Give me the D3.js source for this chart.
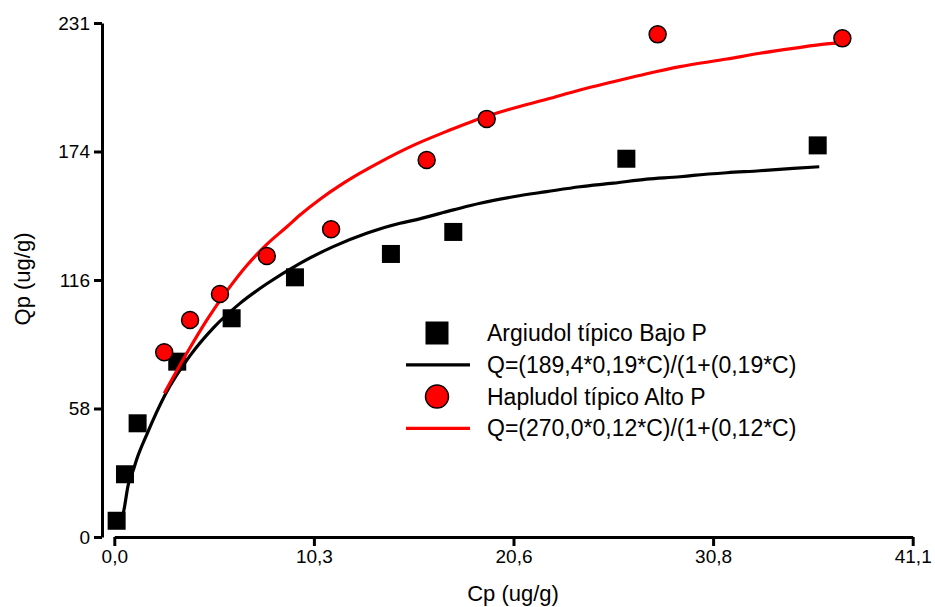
<!DOCTYPE html>
<html>
<head>
<meta charset="utf-8">
<script src="https://cdn.jsdelivr.net/npm/d3@7"></script>
<style>
  html, body { margin: 0; padding: 0; background: #fff; }
  svg { display: block; font-family: "Liberation Sans", Arial, sans-serif; }
</style>
</head>
<body>
<svg id="chart" width="935" height="607"></svg>
<script>
// axis ticks (quarter divisions, labels as printed)
const xTicks = [0, 10.275, 20.55, 30.825, 41.1];
const xTickLabels = ['0,0', '10,3', '20,6', '30,8', '41,1'];
const yTicks = [0, 57.75, 115.5, 173.25, 231];
const yTickLabels = ['0', '58', '116', '174', '231'];

// measured points, Argiudol típico Bajo P (squares)
const argiudolC = [0.12, 0.55, 1.20, 3.24, 6.04, 9.30, 14.24, 17.45, 26.36, 36.21];
const argiudolQ = [7.3, 28.2, 51.1, 78.8, 98.3, 116.7, 127.2, 137.1, 170.0, 176.0];

// measured points, Hapludol típico Alto P (circles)
const hapludolC = [2.57, 3.90, 5.44, 7.85, 11.16, 16.08, 19.17, 27.97, 37.48];
const hapludolQ = [83.0, 97.5, 109.2, 126.3, 138.3, 169.4, 187.9, 225.9, 224.1];

// fitted curves
const fitArgiudolC = [0.14, 0.46, 0.72, 0.98, 1.15, 1.67, 2.61, 3.90, 5.10, 6.47, 7.85, 9.56, 11.27,
  12.99, 14.71, 15.39, 17.45, 18.83, 20.54, 22.26, 23.97, 25.69, 27.41, 29.12, 29.81, 31.53, 33.24,
  34.95, 36.29];
const fitArgiudolQ = [5.4, 10.7, 23.5, 30.1, 34.8, 46.0, 63.8, 81.5, 94.0, 105.0, 113.8, 123.0, 130.5,
  136.5, 141.0, 142.3, 147.0, 150.0, 152.9, 155.2, 157.4, 159.0, 160.8, 161.9, 162.5, 163.7, 164.6,
  165.7, 166.4];

const fitHapludolC = [2.57, 3.73, 4.76, 5.79, 6.82, 7.85, 8.87, 9.56, 10.59, 11.62, 12.65, 13.68,
  15.39, 17.11, 18.48, 20.54, 22.26, 23.97, 25.69, 27.41, 29.12, 31.53, 33.24, 34.95, 36.67, 37.44];
const fitHapludolQ = [64.6, 82.6, 97.5, 110.5, 122.0, 131.5, 139.3, 144.7, 151.8, 158.0, 163.5, 168.5,
  176.0, 182.3, 187.0, 192.7, 196.7, 200.9, 204.6, 208.2, 211.4, 214.8, 217.4, 219.6, 221.6, 222.1];

const legendLabels = [
  'Argiudol típico Bajo P',
  'Q=(189,4*0,19*C)/(1+(0,19*C)',
  'Hapludol típico Alto P',
  'Q=(270,0*0,12*C)/(1+(0,12*C)'
];

const svg = d3.select('#chart');

// scales
const x = d3.scaleLinear().domain([0, 41.1]).range([114.3, 912.7]);
const y = d3.scaleLinear().domain([0, 231]).range([537, 23]);

// y axis, offset to the left of the plot
svg.append('g')
  .attr('transform', 'translate(102,0)')
  .call(d3.axisLeft(y)
    .tickValues(yTicks)
    .tickFormat((d, i) => yTickLabels[i])
    .tickSize(8)
    .tickPadding(4)
    .tickSizeOuter(0));

// x axis
svg.append('g')
  .attr('transform', 'translate(0,537)')
  .call(d3.axisBottom(x)
    .tickValues(xTicks)
    .tickFormat((d, i) => xTickLabels[i])
    .tickSize(9)
    .tickPadding(4)
    .tickSizeOuter(0));

// style both axes alike
svg.selectAll('.domain, .tick line')
  .attr('stroke', '#000')
  .attr('stroke-width', 3);
svg.selectAll('.tick text')
  .attr('font-size', 19)
  .attr('font-family', '"Liberation Sans", Arial, sans-serif')
  .attr('fill', '#000');

// axis titles
svg.append('text')
  .attr('transform', 'translate(30,279) rotate(-90)')
  .attr('text-anchor', 'middle')
  .attr('font-size', 22)
  .text('Qp (ug/g)');

svg.append('text')
  .attr('x', 513)
  .attr('y', 601)
  .attr('text-anchor', 'middle')
  .attr('font-size', 22)
  .text('Cp (ug/g)');

// data tables
const argiudolPts = argiudolC.map((c, i) => ({ c: c, q: argiudolQ[i] }));
const hapludolPts = hapludolC.map((c, i) => ({ c: c, q: hapludolQ[i] }));
const argiudolFit = fitArgiudolC.map((c, i) => ({ c: c, q: fitArgiudolQ[i] }));
const hapludolFit = fitHapludolC.map((c, i) => ({ c: c, q: fitHapludolQ[i] }));

const line = d3.line()
  .curve(d3.curveMonotoneX)
  .x(d => x(d.c))
  .y(d => y(d.q));

const sq = 18;

// black squares
svg.append('g')
  .selectAll('rect')
  .data(argiudolPts)
  .join('rect')
  .attr('x', d => x(d.c) - sq / 2)
  .attr('y', d => y(d.q) - sq / 2)
  .attr('width', sq)
  .attr('height', sq)
  .attr('fill', '#000');

// fitted lines
svg.append('path')
  .datum(argiudolFit)
  .attr('d', line)
  .attr('fill', 'none')
  .attr('stroke', '#000')
  .attr('stroke-width', 3.2)
  .attr('stroke-linejoin', 'round');

svg.append('path')
  .datum(hapludolFit)
  .attr('d', line)
  .attr('fill', 'none')
  .attr('stroke', '#ff0000')
  .attr('stroke-width', 3.2)
  .attr('stroke-linejoin', 'round');

// red circles
svg.append('g')
  .selectAll('circle')
  .data(hapludolPts)
  .join('circle')
  .attr('cx', d => x(d.c))
  .attr('cy', d => y(d.q))
  .attr('r', 8.5)
  .attr('fill', '#ff0000')
  .attr('stroke', '#000')
  .attr('stroke-width', 1.5);

// legend
const legend = svg.append('g');
const rowY = [333, 364.8, 396.6, 428.4];

legend.append('rect')
  .attr('x', 437 - 11.5)
  .attr('y', rowY[0] - 11.5)
  .attr('width', 23)
  .attr('height', 23)
  .attr('fill', '#000');

legend.append('line')
  .attr('x1', 406).attr('x2', 470)
  .attr('y1', rowY[1]).attr('y2', rowY[1])
  .attr('stroke', '#000')
  .attr('stroke-width', 3.2);

legend.append('circle')
  .attr('cx', 437)
  .attr('cy', rowY[2])
  .attr('r', 11.5)
  .attr('fill', '#ff0000')
  .attr('stroke', '#000')
  .attr('stroke-width', 1.5);

legend.append('line')
  .attr('x1', 406).attr('x2', 470)
  .attr('y1', rowY[3]).attr('y2', rowY[3])
  .attr('stroke', '#ff0000')
  .attr('stroke-width', 3.2);

legend.selectAll('text')
  .data(legendLabels)
  .join('text')
  .attr('x', 487)
  .attr('y', (d, i) => rowY[i] + 8)
  .attr('font-size', 23)
  .text(d => d);
</script>
</body>
</html>
